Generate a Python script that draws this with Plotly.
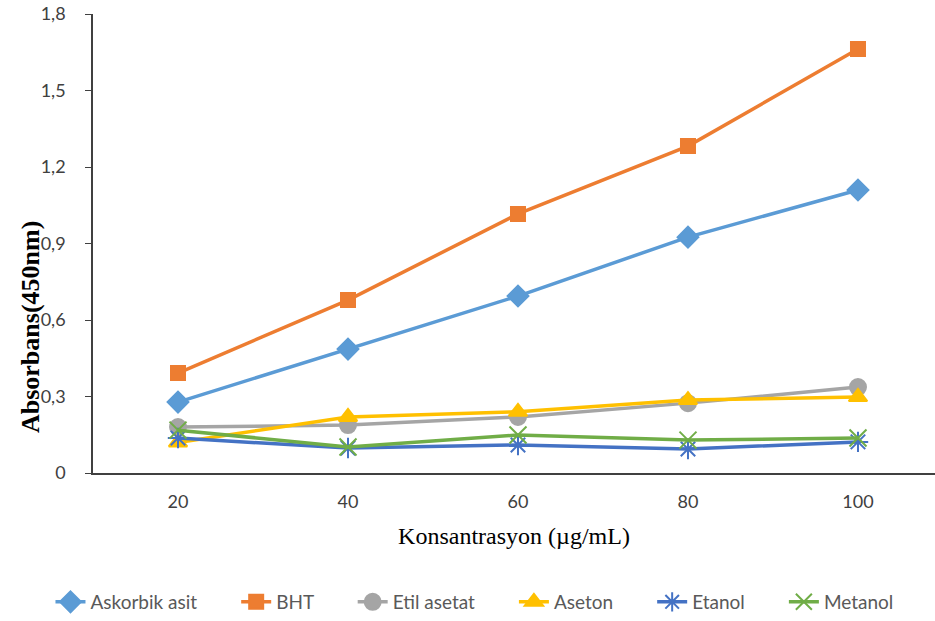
import plotly.graph_objects as go

concentrations = [20, 40, 60, 80, 100]
askorbik_asit = [0.278, 0.486, 0.694, 0.925, 1.11]
bht = [0.392, 0.678, 1.016, 1.282, 1.663]
etil_asetat = [0.18, 0.188, 0.22, 0.274, 0.337]
aseton = [0.12, 0.22, 0.24, 0.286, 0.298]
etanol = [0.137, 0.098, 0.11, 0.094, 0.122]
metanol = [0.168, 0.102, 0.149, 0.129, 0.137]

y_tickvals = [0, 0.3, 0.6, 0.9, 1.2, 1.5, 1.8]
y_ticktext = ["0", "0,3", "0,6", "0,9", "1,2", "1,5", "1,8"]

series = [
    ("Askorbik asit", askorbik_asit, "#5B9BD5", "diamond", 16),
    ("BHT", bht, "#ED7D31", "square", 14),
    ("Etil asetat", etil_asetat, "#A5A5A5", "circle", 16),
    ("Aseton", aseton, "#FFC000", "triangle-up", 16),
    ("Etanol", etanol, "#4472C4", "asterisk-open", 17),
    ("Metanol", metanol, "#70AD47", "x-thin-open", 17),
]

PAD = "\u00a0" * 7

fig = go.Figure()
for i, (name, vals, color, sym, size) in enumerate(series):
    label = name + (PAD if i < len(series) - 1 else "")
    fig.add_trace(go.Scatter(
        x=concentrations, y=vals, name=label, mode="lines+markers",
        line=dict(color=color, width=3.5),
        marker=dict(symbol=sym, size=size, color=color,
                    line=dict(color=color, width=2)),
    ))

fig.update_layout(
    width=935, height=621,
    margin=dict(l=93, r=0, t=14, b=148),
    paper_bgcolor="white", plot_bgcolor="white",
    font=dict(family="Lato, Liberation Sans, sans-serif", color="#404040", size=18),
    showlegend=True,
    legend=dict(orientation="h", x=-0.0505, xanchor="left", y=-0.3224, yanchor="bottom",
                font=dict(size=19, color="#595959"),
                traceorder="normal"),
    xaxis=dict(
        range=[10, 109.06], tickvals=concentrations,
        ticktext=[str(c) for c in concentrations],
        showgrid=False, zeroline=False, showline=True, linecolor="#404040",
        linewidth=1.5, ticks="", ticklabelstandoff=12, automargin=False,
        title=dict(text="Konsantrasyon (µg/mL)", standoff=16,
                   font=dict(family="Liberation Serif, serif", size=24, color="#000000")),
    ),
    yaxis=dict(
        range=[0, 1.8], tickvals=y_tickvals, ticktext=y_ticktext,
        showgrid=False, zeroline=False, showline=True, linecolor="#404040",
        linewidth=1.5, ticks="outside", ticklen=6, tickcolor="#404040",
        ticklabelstandoff=16, automargin=False,
    ),
    annotations=[dict(
        text="<b>Absorbans(450nm)</b>", textangle=-90,
        xref="paper", yref="paper", x=-0.0748, y=0.318,
        xanchor="center", yanchor="middle", showarrow=False,
        font=dict(family="Liberation Serif, serif", size=26, color="#000000"),
    )],
)

fig.write_html("out.html", config={"displayModeBar": False},
               post_script="document.body.style.margin='0';document.body.style.overflow='hidden';")
